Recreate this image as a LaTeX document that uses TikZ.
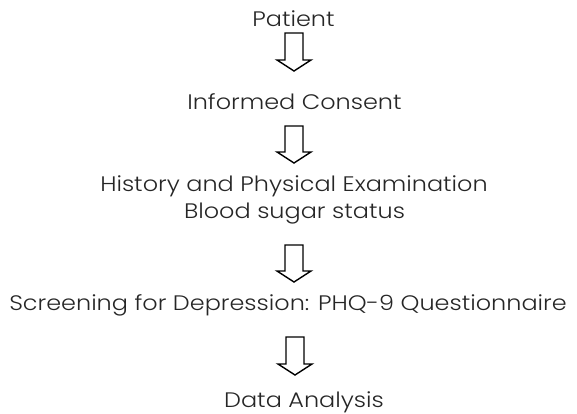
\documentclass[tikz,border=0pt]{standalone}
\usepackage{fontspec}
\setmainfont[FakeStretch=1.14, UprightFont=* Light]{Poppins}
\usetikzlibrary{calc}
\tikzset{
  lbl/.style={font=\fontsize{21}{27}\selectfont, text=black!85, inner sep=0pt, align=center, anchor=base},
  blockarrow/.style={draw=black, line width=1.4pt, fill=white, line join=miter}
}
\newcommand{\myblockarrow}[2]{%
  \draw[blockarrow] ($(#1)+(-9,0)$) -- ($(#1)+(9,0)$) -- ($(#2)+(9,-11)$) -- ($(#2)+(17,-11)$)
    -- (#2) -- ($(#2)+(-17,-11)$) -- ($(#2)+(-9,-11)$) -- cycle;}
\begin{document}
\begin{tikzpicture}[x=1pt, y=-1pt]
\useasboundingbox (0,0) rectangle (577,413);
\node[lbl] (patient) at (293.5,26) {Patient};
\node[lbl] (consent) at (294.5,109) {Informed Consent};
\node[lbl] (history) at (294,191) {History and Physical Examination};
\node[lbl] (sugar) at (294.5,218) {Blood sugar status};
\node[lbl] (screen) at (288,310) {Screening for Depression: PHQ-9 Questionnaire};
\node[lbl] (data) at (304,407) {Data Analysis};
\coordinate (a1) at (294,33); \coordinate (b1) at (294,71);
\coordinate (a2) at (294,126); \coordinate (b2) at (294,163);
\coordinate (a3) at (294,245); \coordinate (b3) at (294,282);
\coordinate (a4) at (295,337); \coordinate (b4) at (295,375);
\myblockarrow{a1}{b1}
\myblockarrow{a2}{b2}
\myblockarrow{a3}{b3}
\myblockarrow{a4}{b4}
\end{tikzpicture}
\end{document}
